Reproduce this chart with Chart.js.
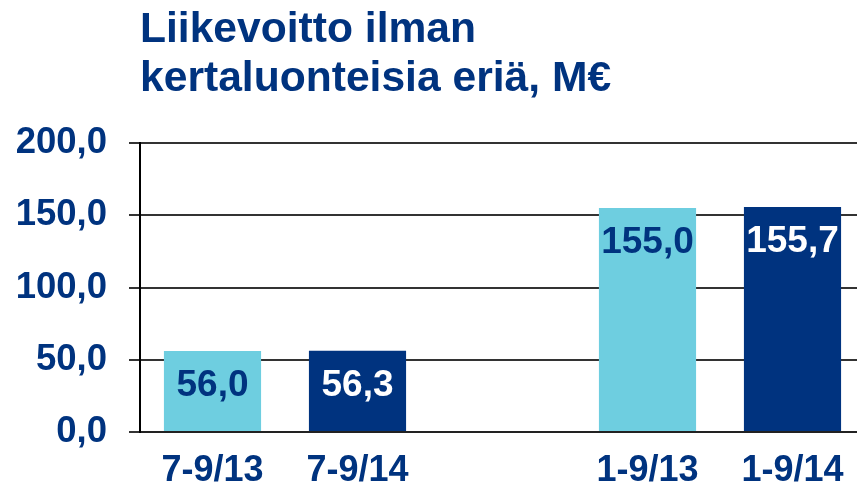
<!DOCTYPE html>
<html>
<head>
<meta charset="utf-8">
<script src="https://cdn.jsdelivr.net/npm/chart.js@4/dist/chart.umd.min.js"></script>
<style>
  html, body { margin: 0; padding: 0; background: #fff; overflow: hidden; }
  #wrap { width: 866px; height: 489px; }
</style>
</head>
<body>
<div id="wrap"><canvas id="profitChart" width="866" height="489"></canvas></div>
<script>
// chart data
const categories = ['7-9/13', '7-9/14', '', '1-9/13', '1-9/14'];
const profitValues = [56.0, 56.3, null, 155.0, 155.7];
const yTicks = [0, 50, 100, 150, 200];
const titleLines = ['Liikevoitto ilman', 'kertaluonteisia eriä, M€'];

// colours
const lightBlue = 'rgb(110, 206, 224)';
const darkBlue = 'rgb(0, 51, 127)';
const barColors = [lightBlue, darkBlue, lightBlue, lightBlue, darkBlue];
const labelColors = [darkBlue, '#ffffff', darkBlue, darkBlue, '#ffffff'];
const fontFamily = '"Liberation Sans", Arial, sans-serif';

// format numbers with a decimal comma
let fmt = function (v) {
  return v.toFixed(1).replace('.', ',');
};

// draw the two line title above the plot
const titlePlugin = {
  id: 'titleLines',
  afterDraw(chart) {
    const ctx = chart.ctx;
    ctx.save();
    ctx.fillStyle = darkBlue;
    ctx.font = 'bold 42.6px ' + fontFamily;
    ctx.textAlign = 'left';
    ctx.textBaseline = 'alphabetic';
    ctx.fillText(titleLines[0], 140, 42);
    ctx.fillText(titleLines[1], 140, 91);
    ctx.restore();
  }
};

// value labels just inside the top of each bar
const valueLabels = {
  id: 'valueLabels',
  afterDatasetsDraw(chart) {
    const ctx = chart.ctx;
    const meta = chart.getDatasetMeta(0);
    ctx.save();
    ctx.font = 'bold 37px ' + fontFamily;
    ctx.textAlign = 'center';
    ctx.textBaseline = 'middle';
    meta.data.forEach(function (bar, i) {
      const v = profitValues[i];
      if (v === null) return;
      ctx.fillStyle = labelColors[i];
      ctx.fillText(fmt(v), bar.x, bar.y + 35);
    });
    ctx.restore();
  }
};

const config = {
  type: 'bar',
  data: {
    labels: categories,
    datasets: [{
      data: profitValues,
      backgroundColor: barColors,
      borderWidth: 0,
      barPercentage: 0.67,
      categoryPercentage: 1
    }]
  },
  options: {
    responsive: false,
    animation: false,
    layout: { padding: { top: 143, right: 1, left: 0, bottom: 0 } },
    plugins: {
      legend: { display: false },
      tooltip: { enabled: false }
    },
    scales: {
      x: {
        grid: { display: false, drawTicks: false },
        border: { display: true, color: '#222', width: 2 },
        ticks: {
          color: darkBlue,
          font: { family: fontFamily, size: 36, weight: 'bold' },
          padding: 17,
          maxRotation: 0,
          autoSkip: false
        },
        afterFit: function (s) { s.height = 57; }
      },
      y: {
        min: 0,
        max: 200,
        afterBuildTicks: function (s) {
          s.ticks = yTicks.map(function (v) { return { value: v }; });
        },
        grid: { color: '#333', lineWidth: 2, tickLength: 11 },
        border: { display: true, color: '#000', width: 2 },
        ticks: {
          color: darkBlue,
          font: { family: fontFamily, size: 36.5, weight: 'bold' },
          padding: 22,
          callback: function (v) { return fmt(v); }
        },
        afterFit: function (s) { s.width = 140; }
      }
    }
  },
  plugins: [titlePlugin, valueLabels]
};

let profitChart = new Chart(document.getElementById('profitChart'), config);
</script>
</body>
</html>
